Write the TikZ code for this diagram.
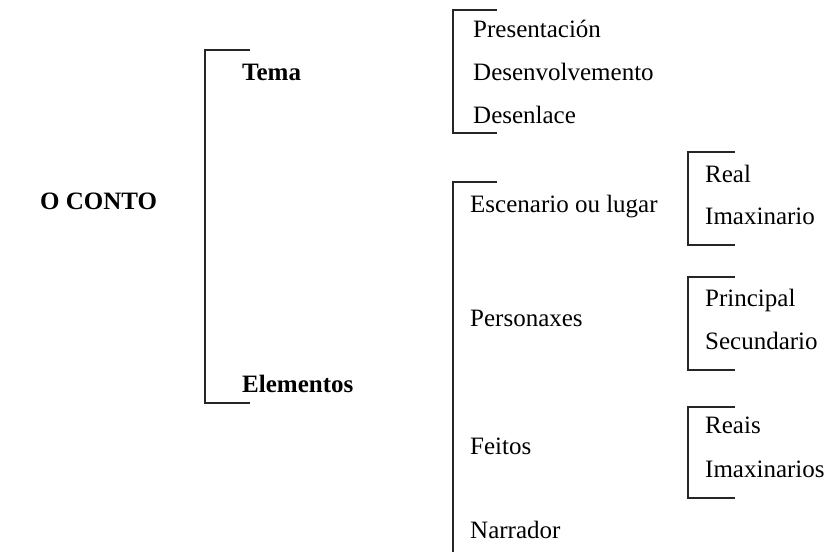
\documentclass[tikz,border=0pt]{standalone}
\usepackage{fontspec}
\setmainfont{Liberation Serif}
\begin{document}
\begin{tikzpicture}[x=1pt,y=-1pt,
  lbl/.style={anchor=base west,inner sep=0pt,font=\fontsize{25}{30}\selectfont},
  blbl/.style={lbl,font=\fontsize{25}{30}\selectfont\bfseries},
  brk/.style={draw=black!85,line width=1.1pt}]
\useasboundingbox (0,0) rectangle (833,552);
% texts
\node[blbl] (conto) at (40,209) {O CONTO};
\node[blbl] (tema) at (242,80) {Tema};
\node[blbl] (elem) at (242,392) {Elementos};
\node[lbl] (pres) at (473,37) {Presentación};
\node[lbl] (desv) at (473,80) {Desenvolvemento};
\node[lbl] (desl) at (473,123) {Desenlace};
\node[lbl] (esc) at (470,212) {Escenario ou lugar};
\node[lbl] (pers) at (470,326) {Personaxes};
\node[lbl] (feit) at (470,454) {Feitos};
\node[lbl] (narr) at (470,538) {Narrador};
\node[lbl] (real) at (705,182) {Real};
\node[lbl] (imx) at (705,224) {Imaxinario};
\node[lbl] (prin) at (705,306) {Principal};
\node[lbl] (secu) at (705,349) {Secundario};
\node[lbl] (reais) at (705,433) {Reais};
\node[lbl] (imxs) at (705,477) {Imaxinarios};
% bracket coordinates
\coordinate (b1t) at (250,50); \coordinate (b1b) at (250,403);
\coordinate (b2t) at (497,10); \coordinate (b2b) at (497,133);
\coordinate (b3t) at (497,182); \coordinate (b3b) at (453,552);
\coordinate (b4t) at (735,152); \coordinate (b4b) at (735,245);
\coordinate (b5t) at (735,277); \coordinate (b5b) at (735,370);
\coordinate (b6t) at (735,407); \coordinate (b6b) at (735,498);
% brackets
\draw[brk] (b1t) -- (205,50) -- (205,403) -- (b1b);
\draw[brk] (b2t) -- (453,10) -- (453,133) -- (b2b);
\draw[brk] (b3t) -- (453,182) -- (b3b);
\draw[brk] (b4t) -- (688,152) -- (688,245) -- (b4b);
\draw[brk] (b5t) -- (688,277) -- (688,370) -- (b5b);
\draw[brk] (b6t) -- (688,407) -- (688,498) -- (b6b);
\end{tikzpicture}
\end{document}
